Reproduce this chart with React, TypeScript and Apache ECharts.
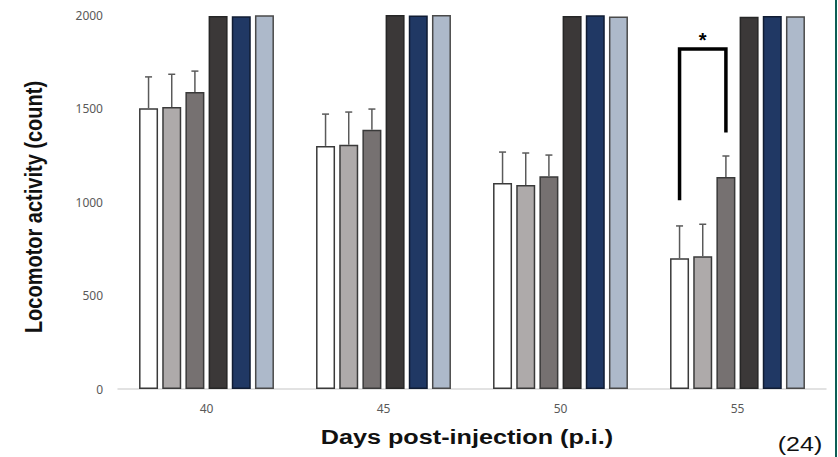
import React, { useEffect, useRef } from "react";
import * as echarts from "echarts";

const days = ["40", "45", "50", "55"];
const groupNames = ["Group A", "Group B", "Group C", "Group D", "Group E", "Group F"];
const groupA = [1502, 1300, 1101, 699];
const groupB = [1508, 1306, 1091, 710];
const groupC = [1588, 1386, 1138, 1134];
const groupD = [1995, 2000, 1995, 1990];
const groupE = [1993, 1997, 1998, 1995];
const groupF = [1998, 2000, 1992, 1993];
const errA = [167, 170, 166, 173];
const errB = [175, 175, 171, 171];
const errC = [112, 111, 113, 112];
const yTicks = [0, 500, 1000, 1500, 2000];

// significance bracket between group A and group C at day 55
const bracketCategory = 3;
const bracketFrom = 0;
const bracketTo = 2;
const bracketLeftEnd = 1010;
const bracketTop = 1818;
const bracketRightEnd = 1372;
const bracketLabel = "*";

const xTitle = "Days post-injection (p.i.)";
const yTitle = "Locomotor activity (count)";
const figureNote = "(24)";

const colors = ["#ffffff", "#aeaaaa", "#767171", "#3b3838", "#203864", "#adb9ca"];
const borders = ["#3a3a3a", "#3a3a3a", "#3a3a3a", "#262626", "#101c33", "#4a4a4a"];

const BAR_W = 19;
const GAP = 0.22;
const PITCH = BAR_W * (1 + GAP);
const offsetOf = (i: number) => (i - 2.5) * PITCH;

export default function App() {
  const ref = useRef<HTMLDivElement>(null);
  useEffect(() => {
    if (!ref.current) return;
    const chart = echarts.init(ref.current, undefined, { renderer: "svg" });
    const values = [groupA, groupB, groupC, groupD, groupE, groupF];
    const errs = [errA, errB, errC];
    const errData: number[][] = [];
    errs.forEach((e, s) =>
      e.forEach((v, c) => errData.push([c, values[s][c], values[s][c] + v, s]))
    );
    const barSeries = values.map((d, i) => ({
      type: "bar",
      name: groupNames[i],
      data: d,
      barWidth: BAR_W,
      barGap: `${GAP * 100}%`,
      itemStyle: { color: colors[i], borderColor: borders[i], borderWidth: 1.5 },
      silent: true,
    }));
    chart.setOption({
      animation: false,
      backgroundColor: "#ffffff",
      grid: { left: 118, right: 12, top: 15, bottom: 68 },
      xAxis: {
        type: "category",
        data: days,
        axisLine: { lineStyle: { color: "#d9d9d9", width: 1.5 } },
        axisTick: { show: false },
        axisLabel: { color: "#595959", fontSize: 12, fontFamily: "Noto Sans", margin: 13 },
      },
      yAxis: {
        type: "value",
        min: yTicks[0],
        max: yTicks[yTicks.length - 1],
        interval: 500,
        splitLine: { show: false },
        axisLine: { show: false },
        axisTick: { show: false },
        axisLabel: {
          color: "#595959",
          fontSize: 12,
          fontFamily: "Noto Sans",
          margin: 15,
          formatter: (v: number) => String(v),
        },
      },
      series: [
        ...barSeries,
        {
          type: "custom",
          data: errData,
          encode: { x: 0, y: [1, 2] },
          silent: true,
          z: 5,
          renderItem: (params: any, api: any) => {
            const c = api.value(0);
            const s = api.value(3);
            const p0 = api.coord([c, api.value(1)]);
            const p1 = api.coord([c, api.value(2)]);
            const x = p0[0] + offsetOf(s);
            return {
              type: "group",
              children: [
                {
                  type: "line",
                  shape: { x1: x, y1: p0[1], x2: x, y2: p1[1] },
                  style: { stroke: "#5a5a5a", lineWidth: 1.5 },
                },
                {
                  type: "line",
                  shape: { x1: x - 3.5, y1: p1[1], x2: x + 3.5, y2: p1[1] },
                  style: { stroke: "#5a5a5a", lineWidth: 1.5 },
                },
              ],
            };
          },
        },
        {
          type: "custom",
          data: [[bracketCategory, bracketLeftEnd, bracketTop, bracketRightEnd]],
          encode: { x: 0, y: [1, 2, 3] },
          silent: true,
          z: 6,
          renderItem: (params: any, api: any) => {
            const c = api.value(0);
            const pL = api.coord([c, api.value(1)]);
            const pT = api.coord([c, api.value(2)]);
            const pR = api.coord([c, api.value(3)]);
            const xl = pL[0] + offsetOf(bracketFrom);
            const xr = pL[0] + offsetOf(bracketTo);
            return {
              type: "group",
              children: [
                {
                  type: "polyline",
                  shape: {
                    points: [
                      [xl, pL[1]],
                      [xl, pT[1]],
                      [xr, pT[1]],
                      [xr, pR[1]],
                    ],
                  },
                  style: { stroke: "#000", lineWidth: 3.5, fill: null, lineJoin: "miter" },
                },
                {
                  type: "text",
                  x: (xl + xr) / 2,
                  y: pT[1] + 1,
                  style: {
                    text: bracketLabel,
                    fontSize: 20,
                    fontWeight: "bold",
                    fontFamily: "Liberation Sans",
                    fill: "#000",
                    align: "center",
                    verticalAlign: "bottom",
                  },
                },
              ],
            };
          },
        },
      ],
      graphic: [
        {
          type: "text",
          x: 467,
          y: 437,
          scaleX: 1.2,
          style: {
            text: xTitle,
            fontSize: 21,
            fontWeight: "bold",
            fontFamily: "Liberation Sans",
            fill: "#111",
            align: "center",
            verticalAlign: "middle",
          },
        },
        {
          type: "text",
          x: 34,
          y: 207,
          rotation: Math.PI / 2,
          scaleY: 1.15,
          style: {
            text: yTitle,
            fontSize: 20,
            fontWeight: "bold",
            fontFamily: "Liberation Sans",
            fill: "#111",
            align: "center",
            verticalAlign: "middle",
          },
        },
        {
          type: "text",
          x: 800,
          y: 444,
          scaleX: 1.25,
          style: {
            text: figureNote,
            fontSize: 20,
            fontFamily: "Liberation Sans",
            fill: "#111",
            align: "center",
            verticalAlign: "middle",
          },
        },
        {
          type: "rect",
          left: 835,
          top: 0,
          shape: { width: 2, height: 457 },
          style: { fill: "#0d5e55" },
        },
      ],
    });
    return () => chart.dispose();
  }, []);
  return (
    <div
      ref={ref}
      style={{ position: "fixed", left: 0, top: 0, width: 838, height: 457, background: "#fff" }}
    />
  );
}
